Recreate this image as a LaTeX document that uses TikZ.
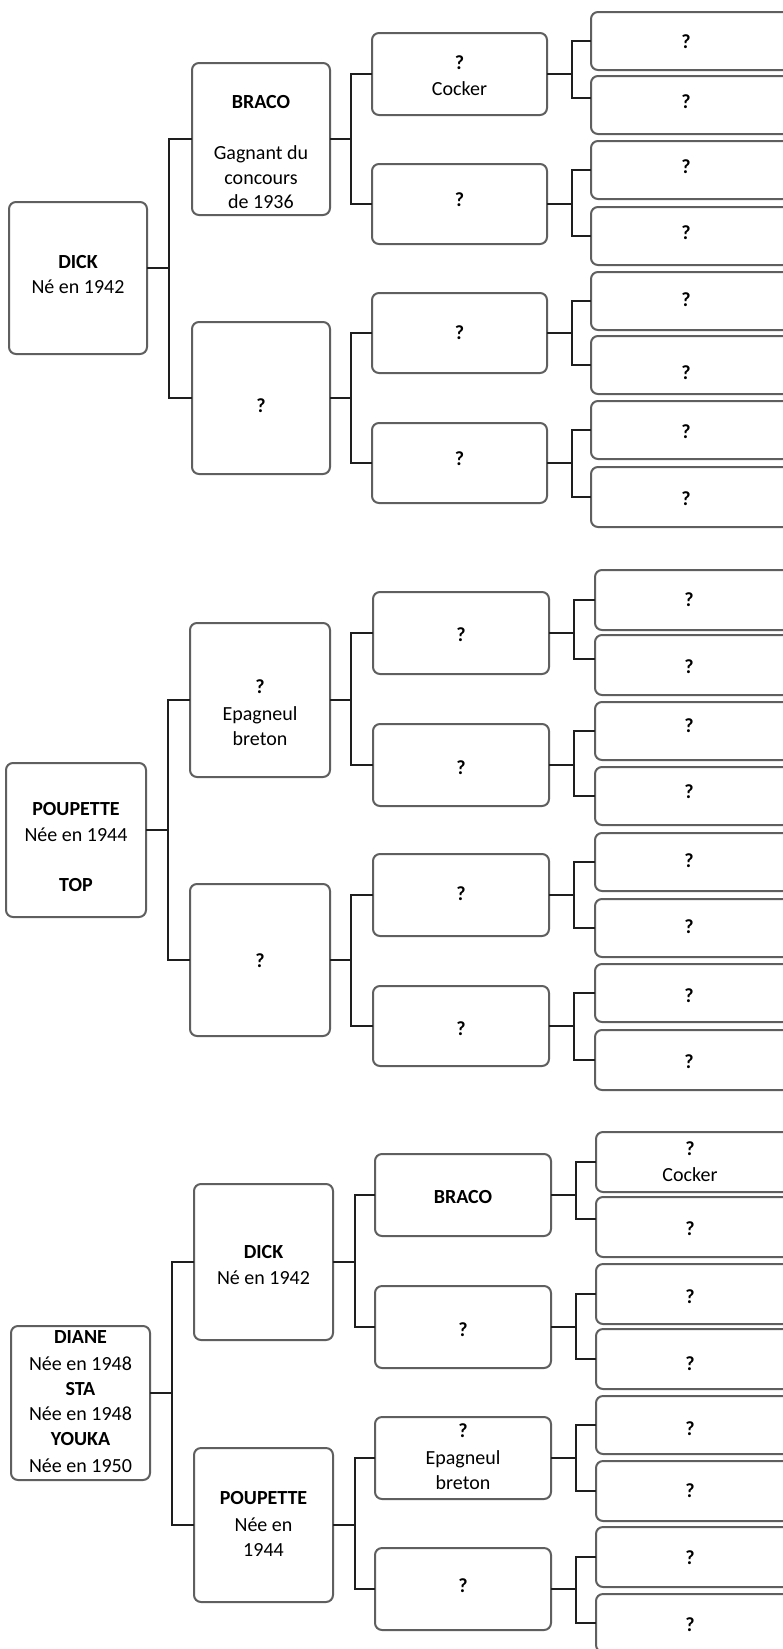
\documentclass[tikz,border=0pt]{standalone}
\usepackage{fontspec}
\setmainfont{Carlito}
\definecolor{boxline}{RGB}{95,95,95}
\definecolor{connline}{RGB}{30,30,30}
\tikzset{
 pbox/.style={draw=boxline, line width=2pt, rounded corners=7pt, fill=white, inner sep=0pt, outer sep=0pt},
 plbl/.style={anchor=base, inner sep=0pt, font=\fontsize{20}{24}\selectfont, text=black},
 conn/.style={draw=connline, line width=2pt},
}
\newcommand\pbx[5]{\node[pbox, minimum width={(#4-#2)*1pt}, minimum height={(#5-#3)*1pt}] (#1) at ({(#2+#4)/2},{(#3+#5)/2}) {};}
\newcommand\ptx[4]{\node[plbl] (#1) at (#2,{#3+6.5}) {#4};}
\newcommand\plink[6]{\coordinate (#4) at (#5,#6); \draw[conn] (#1.east |- #4) -- (#4); \draw[conn] (#2) -| (#4) |- (#3);}
\begin{document}
\begin{tikzpicture}[x=1pt,y=-1pt]
\fill[white] (0,0) rectangle (783,1649);
\useasboundingbox (0,0) rectangle (783,1649);
% ================= TREE 1 =================
\pbx{t1r}{9}{202}{147}{354}
\ptx{t1r1}{78}{261.7}{\textbf{DICK}}
\ptx{t1r2}{78}{287.3}{Né en 1942}
\pbx{t1a}{192}{63}{330}{215}
\ptx{t1a1}{261}{101.7}{\textbf{BRACO}}
\ptx{t1a2}{261}{153.3}{Gagnant du}
\ptx{t1a3}{261}{177.7}{concours}
\ptx{t1a4}{261}{201.7}{de 1936}
\pbx{t1b}{192}{322}{330}{474}
\ptx{t1b1}{261}{405.7}{\textbf{?}}
\pbx{t1aa}{372}{33}{547}{115}
\ptx{t1aa1}{459.5}{62.7}{\textbf{?}}
\ptx{t1aa2}{459.5}{89.3}{Cocker}
\pbx{t1ab}{372}{164}{547}{244}
\ptx{t1ab1}{459.5}{200}{\textbf{?}}
\pbx{t1ba}{372}{293}{547}{373}
\ptx{t1ba1}{459.5}{332.7}{\textbf{?}}
\pbx{t1bb}{372}{423}{547}{503}
\ptx{t1bb1}{459.5}{459.3}{\textbf{?}}
\pbx{t1g1}{591}{12}{790}{70}
\ptx{t1g1t}{686}{41.7}{\textbf{?}}
\pbx{t1g2}{591}{76}{790}{134}
\ptx{t1g2t}{686}{101.7}{\textbf{?}}
\pbx{t1g3}{591}{141}{790}{199}
\ptx{t1g3t}{686}{166.7}{\textbf{?}}
\pbx{t1g4}{591}{207}{790}{265}
\ptx{t1g4t}{686}{233.3}{\textbf{?}}
\pbx{t1g5}{591}{272}{790}{330}
\ptx{t1g5t}{686}{300.2}{\textbf{?}}
\pbx{t1g6}{591}{336}{790}{394}
\ptx{t1g6t}{686}{372.8}{\textbf{?}}
\pbx{t1g7}{591}{401}{790}{459}
\ptx{t1g7t}{686}{432.4}{\textbf{?}}
\pbx{t1g8}{591}{467}{790}{527}
\ptx{t1g8t}{686}{499}{\textbf{?}}
\plink{t1r}{t1a.west}{t1b.west}{t1rj}{169}{268}
\plink{t1a}{t1aa.west}{t1ab.west}{t1aj}{351}{139}
\plink{t1b}{t1ba.west}{t1bb.west}{t1bj}{351}{398}
\plink{t1aa}{t1g1.west}{[yshift=7pt]t1g2.west}{t1aaj}{572}{74}
\plink{t1ab}{t1g3.west}{t1g4.west}{t1abj}{572}{204}
\plink{t1ba}{t1g5.west}{t1g6.west}{t1baj}{572}{333}
\plink{t1bb}{t1g7.west}{t1g8.west}{t1bbj}{572}{463}
% ================= TREE 2 =================
\pbx{t2r}{6}{763}{146}{917}
\ptx{t2r1}{76}{808.6}{\textbf{POUPETTE}}
\ptx{t2r2}{76}{834.6}{Née en 1944}
\ptx{t2r3}{76}{884.6}{\textbf{TOP}}
\pbx{t2a}{190}{623}{330}{777}
\ptx{t2a1}{260}{687}{\textbf{?}}
\ptx{t2a2}{260}{713.5}{Epagneul}
\ptx{t2a3}{260}{739}{breton}
\pbx{t2b}{190}{884}{330}{1036}
\ptx{t2b1}{260}{961.4}{\textbf{?}}
\pbx{t2aa}{373}{592}{549}{674}
\ptx{t2aa1}{461}{634.6}{\textbf{?}}
\pbx{t2ab}{373}{724}{549}{806}
\ptx{t2ab1}{461}{767.5}{\textbf{?}}
\pbx{t2ba}{373}{854}{549}{936}
\ptx{t2ba1}{461}{894}{\textbf{?}}
\pbx{t2bb}{373}{986}{549}{1066}
\ptx{t2bb1}{461}{1029}{\textbf{?}}
\pbx{t2g1}{595}{570}{790}{630}
\ptx{t2g1t}{689}{600}{\textbf{?}}
\pbx{t2g2}{595}{635}{790}{695}
\ptx{t2g2t}{689}{667.4}{\textbf{?}}
\pbx{t2g3}{595}{702}{790}{760}
\ptx{t2g3t}{689}{726}{\textbf{?}}
\pbx{t2g4}{595}{767}{790}{825}
\ptx{t2g4t}{689}{792}{\textbf{?}}
\pbx{t2g5}{595}{833}{790}{891}
\ptx{t2g5t}{689}{861.4}{\textbf{?}}
\pbx{t2g6}{595}{899}{790}{957}
\ptx{t2g6t}{689}{927.3}{\textbf{?}}
\pbx{t2g7}{595}{964}{790}{1022}
\ptx{t2g7t}{689}{995.7}{\textbf{?}}
\pbx{t2g8}{595}{1030}{790}{1090}
\ptx{t2g8t}{689}{1062.4}{\textbf{?}}
\plink{t2r}{t2a.west}{t2b.west}{t2rj}{168}{830}
\plink{t2a}{t2aa.west}{t2ab.west}{t2aj}{351}{700}
\plink{t2b}{t2ba.west}{t2bb.west}{t2bj}{351}{960}
\plink{t2aa}{t2g1.west}{[yshift=6pt]t2g2.west}{t2aaj}{574}{633}
\plink{t2ab}{t2g3.west}{t2g4.west}{t2abj}{574}{765}
\plink{t2ba}{t2g5.west}{t2g6.west}{t2baj}{574}{895}
\plink{t2bb}{t2g7.west}{t2g8.west}{t2bbj}{574}{1026}
% ================= TREE 3 =================
\pbx{t3r}{11}{1326}{150}{1480}
\ptx{t3r1}{80.5}{1337.3}{\textbf{DIANE}}
\ptx{t3r2}{80.5}{1364}{Née en 1948}
\ptx{t3r3}{80.5}{1389.3}{\textbf{STA}}
\ptx{t3r4}{80.5}{1414.3}{Née en 1948}
\ptx{t3r5}{80.5}{1439.3}{\textbf{YOUKA}}
\ptx{t3r6}{80.5}{1465.7}{Née en 1950}
\pbx{t3a}{194}{1184}{333}{1340}
\ptx{t3a1}{263.5}{1251.7}{\textbf{DICK}}
\ptx{t3a2}{263.5}{1278.3}{Né en 1942}
\pbx{t3b}{194}{1448}{333}{1602}
\ptx{t3b1}{263.5}{1498.3}{\textbf{POUPETTE}}
\ptx{t3b2}{263.5}{1525}{Née en}
\ptx{t3b3}{263.5}{1550}{1944}
\pbx{t3aa}{375}{1154}{551}{1236}
\ptx{t3aa1}{463}{1196.7}{\textbf{BRACO}}
\pbx{t3ab}{375}{1286}{551}{1368}
\ptx{t3ab1}{463}{1330}{\textbf{?}}
\pbx{t3ba}{375}{1417}{551}{1499}
\ptx{t3ba1}{463}{1431}{\textbf{?}}
\ptx{t3ba2}{463}{1457.7}{Epagneul}
\ptx{t3ba3}{463}{1482.7}{breton}
\pbx{t3bb}{375}{1548}{551}{1630}
\ptx{t3bb1}{463}{1586}{\textbf{?}}
\pbx{t3g1}{596}{1132}{790}{1192}
\ptx{t3g1t}{690}{1149.3}{\textbf{?}}
\ptx{t3g1u}{690}{1175}{Cocker}
\pbx{t3g2}{596}{1197}{790}{1257}
\ptx{t3g2t}{690}{1229.3}{\textbf{?}}
\pbx{t3g3}{596}{1264}{790}{1324}
\ptx{t3g3t}{690}{1296.7}{\textbf{?}}
\pbx{t3g4}{596}{1329}{790}{1389}
\ptx{t3g4t}{690}{1364.3}{\textbf{?}}
\pbx{t3g5}{596}{1396}{790}{1454}
\ptx{t3g5t}{690}{1429.3}{\textbf{?}}
\pbx{t3g6}{596}{1461}{790}{1521}
\ptx{t3g6t}{690}{1491}{\textbf{?}}
\pbx{t3g7}{596}{1527}{790}{1587}
\ptx{t3g7t}{690}{1558.3}{\textbf{?}}
\pbx{t3g8}{596}{1594}{790}{1652}
\ptx{t3g8t}{690}{1625}{\textbf{?}}
\plink{t3r}{t3a.west}{t3b.west}{t3rj}{172}{1393}
\plink{t3a}{t3aa.west}{t3ab.west}{t3aj}{355}{1262}
\plink{t3b}{t3ba.west}{t3bb.west}{t3bj}{355}{1525}
\plink{t3aa}{t3g1.west}{[yshift=8pt]t3g2.west}{t3aaj}{576}{1195}
\plink{t3ab}{t3g3.west}{t3g4.west}{t3abj}{576}{1327}
\plink{t3ba}{t3g5.west}{t3g6.west}{t3baj}{576}{1458}
\plink{t3bb}{t3g7.west}{t3g8.west}{t3bbj}{576}{1589}
\end{tikzpicture}
\end{document}
